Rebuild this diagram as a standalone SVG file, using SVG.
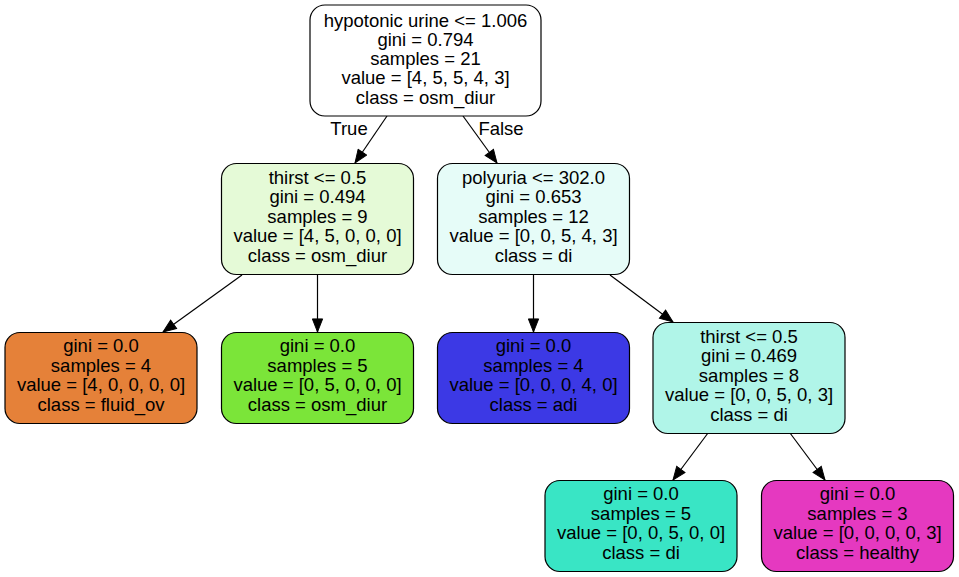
<svg xmlns="http://www.w3.org/2000/svg" width="959" height="577" viewBox="0 0 959 577">
  <style>
    .box { stroke: #000; stroke-width: 1.2; }
    .lbl { font-family: "Liberation Sans", Arial, Helvetica, sans-serif; font-size: 18.5px; fill: #000; text-anchor: middle; }
    .edge { stroke: #000; stroke-width: 1.2; fill: none; marker-end: url(#arrow); }
  </style>
  <defs>
    <marker id="arrow" markerUnits="userSpaceOnUse" markerWidth="15" markerHeight="12" refX="14" refY="5.5" orient="auto" viewBox="-1 -0.5 16 12">
      <path d="M0,0 L14,5.5 L0,11 z" fill="#000" stroke="#000" stroke-width="1"/>
    </marker>
  </defs>
  <rect width="959" height="577" fill="#fff"/>

  <g id="edges">
    <line class="edge" x1="387" y1="116" x2="355" y2="163"/>
    <line class="edge" x1="463" y1="116" x2="497" y2="163"/>
    <line class="edge" x1="242" y1="275" x2="163" y2="332"/>
    <line class="edge" x1="317.5" y1="275" x2="317.5" y2="332"/>
    <line class="edge" x1="533.5" y1="275" x2="533.5" y2="332"/>
    <line class="edge" x1="610" y1="275" x2="673" y2="322"/>
    <line class="edge" x1="708" y1="433" x2="673" y2="480"/>
    <line class="edge" x1="790" y1="433" x2="825" y2="480"/>
    <text class="lbl" x="349" y="135">True</text>
    <text class="lbl" x="501" y="135">False</text>
  </g>

  <g id="node0">
    <rect class="box" x="310" y="5" width="231" height="111" rx="15" fill="#ffffff"/>
    <text class="lbl" x="425.5" y="26.5">hypotonic urine &lt;= 1.006</text>
    <text class="lbl" x="425.5" y="45.8">gini = 0.794</text>
    <text class="lbl" x="425.5" y="65.1">samples = 21</text>
    <text class="lbl" x="425.5" y="84.4">value = [4, 5, 5, 4, 3]</text>
    <text class="lbl" x="425.5" y="103.7">class = osm_diur</text>
  </g>

  <g id="node1">
    <rect class="box" x="221.5" y="163.5" width="192" height="111" rx="15" fill="#e5fad7"/>
    <text class="lbl" x="317.5" y="184">thirst &lt;= 0.5</text>
    <text class="lbl" x="317.5" y="203.4">gini = 0.494</text>
    <text class="lbl" x="317.5" y="222.8">samples = 9</text>
    <text class="lbl" x="317.5" y="242.2">value = [4, 5, 0, 0, 0]</text>
    <text class="lbl" x="317.5" y="261.6">class = osm_diur</text>
  </g>

  <g id="node2">
    <rect class="box" x="437.5" y="163.5" width="192" height="111" rx="15" fill="#e6fcf8"/>
    <text class="lbl" x="533.5" y="184">polyuria &lt;= 302.0</text>
    <text class="lbl" x="533.5" y="203.4">gini = 0.653</text>
    <text class="lbl" x="533.5" y="222.8">samples = 12</text>
    <text class="lbl" x="533.5" y="242.2">value = [0, 0, 5, 4, 3]</text>
    <text class="lbl" x="533.5" y="261.6">class = di</text>
  </g>

  <g id="node3">
    <rect class="box" x="5" y="332.5" width="192" height="91" rx="15" fill="#e58139"/>
    <text class="lbl" x="101" y="352.3">gini = 0.0</text>
    <text class="lbl" x="101" y="371.8">samples = 4</text>
    <text class="lbl" x="101" y="391.3">value = [4, 0, 0, 0, 0]</text>
    <text class="lbl" x="101" y="410.8">class = fluid_ov</text>
  </g>

  <g id="node4">
    <rect class="box" x="221.5" y="332.5" width="192" height="91" rx="15" fill="#7be539"/>
    <text class="lbl" x="317.5" y="352.3">gini = 0.0</text>
    <text class="lbl" x="317.5" y="371.8">samples = 5</text>
    <text class="lbl" x="317.5" y="391.3">value = [0, 5, 0, 0, 0]</text>
    <text class="lbl" x="317.5" y="410.8">class = osm_diur</text>
  </g>

  <g id="node5">
    <rect class="box" x="437.5" y="332.5" width="192" height="91" rx="15" fill="#3c39e5"/>
    <text class="lbl" x="533.5" y="352.3">gini = 0.0</text>
    <text class="lbl" x="533.5" y="371.8">samples = 4</text>
    <text class="lbl" x="533.5" y="391.3">value = [0, 0, 0, 4, 0]</text>
    <text class="lbl" x="533.5" y="410.8">class = adi</text>
  </g>

  <g id="node6">
    <rect class="box" x="653" y="322.5" width="192" height="111" rx="15" fill="#b0f5e8"/>
    <text class="lbl" x="749" y="343">thirst &lt;= 0.5</text>
    <text class="lbl" x="749" y="362.4">gini = 0.469</text>
    <text class="lbl" x="749" y="381.8">samples = 8</text>
    <text class="lbl" x="749" y="401.2">value = [0, 0, 5, 0, 3]</text>
    <text class="lbl" x="749" y="420.6">class = di</text>
  </g>

  <g id="node7">
    <rect class="box" x="545" y="480.5" width="192" height="91" rx="15" fill="#39e5c5"/>
    <text class="lbl" x="641" y="500.3">gini = 0.0</text>
    <text class="lbl" x="641" y="519.8">samples = 5</text>
    <text class="lbl" x="641" y="539.3">value = [0, 0, 5, 0, 0]</text>
    <text class="lbl" x="641" y="558.8">class = di</text>
  </g>

  <g id="node8">
    <rect class="box" x="761.5" y="480.5" width="192" height="91" rx="15" fill="#e539c0"/>
    <text class="lbl" x="857.5" y="500.3">gini = 0.0</text>
    <text class="lbl" x="857.5" y="519.8">samples = 3</text>
    <text class="lbl" x="857.5" y="539.3">value = [0, 0, 0, 0, 3]</text>
    <text class="lbl" x="857.5" y="558.8">class = healthy</text>
  </g>
</svg>
